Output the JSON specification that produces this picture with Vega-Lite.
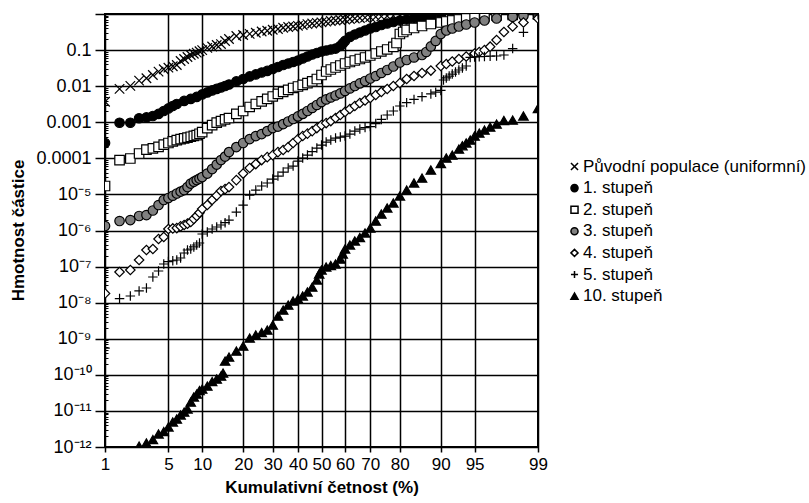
{
"$schema": "https://vega.github.io/schema/vega-lite/v6.json",
"width": 433, "height": 433,
"autosize": {"type": "none"},
"padding": {"left": 105, "top": 14, "right": 271, "bottom": 56},
"background": "white",
"config": {"font": "Liberation Sans", "view": {"stroke": "black", "strokeWidth": 2}},
"data": {"values": [
{"s":"u","z":-2.326,"m":0.0037},{"s":"u","z":-2.17,"m":0.0084},{"s":"u","z":-2.054,"m":0.0102},{"s":"u","z":-1.96,"m":0.0142},{"s":"u","z":-1.881,"m":0.0166},{"s":"u","z":-1.812,"m":0.0204},{"s":"u","z":-1.751,"m":0.0252},{"s":"u","z":-1.695,"m":0.0294},{"s":"u","z":-1.645,"m":0.0325},{"s":"u","z":-1.598,"m":0.0356},{"s":"u","z":-1.555,"m":0.0387},{"s":"u","z":-1.514,"m":0.0499},{"s":"u","z":-1.476,"m":0.0566},{"s":"u","z":-1.44,"m":0.0644},{"s":"u","z":-1.405,"m":0.0731},{"s":"u","z":-1.372,"m":0.079},{"s":"u","z":-1.341,"m":0.0847},{"s":"u","z":-1.311,"m":0.0926},{"s":"u","z":-1.282,"m":0.1},{"s":"u","z":-1.227,"m":0.115},{"s":"u","z":-1.175,"m":0.126},{"s":"u","z":-1.126,"m":0.138},{"s":"u","z":-1.08,"m":0.147},{"s":"u","z":-1.036,"m":0.179},{"s":"u","z":-0.994,"m":0.203},{"s":"u","z":-0.915,"m":0.246},{"s":"u","z":-0.842,"m":0.262},{"s":"u","z":-0.772,"m":0.282},{"s":"u","z":-0.706,"m":0.303},{"s":"u","z":-0.643,"m":0.327},{"s":"u","z":-0.583,"m":0.344},{"s":"u","z":-0.524,"m":0.367},{"s":"u","z":-0.468,"m":0.384},{"s":"u","z":-0.412,"m":0.415},{"s":"u","z":-0.358,"m":0.436},{"s":"u","z":-0.305,"m":0.45},{"s":"u","z":-0.253,"m":0.471},{"s":"u","z":-0.202,"m":0.496},{"s":"u","z":-0.151,"m":0.522},{"s":"u","z":-0.1,"m":0.545},{"s":"u","z":-0.05,"m":0.57},{"s":"u","z":0,"m":0.589},{"s":"u","z":0.05,"m":0.612},{"s":"u","z":0.1,"m":0.64},{"s":"u","z":0.151,"m":0.661},{"s":"u","z":0.202,"m":0.682},{"s":"u","z":0.253,"m":0.704},{"s":"u","z":0.305,"m":0.727},{"s":"u","z":0.358,"m":0.75},{"s":"u","z":0.412,"m":0.775},{"s":"u","z":0.468,"m":0.795},{"s":"u","z":0.524,"m":0.815},{"s":"u","z":0.583,"m":0.836},{"s":"u","z":0.643,"m":0.858},{"s":"u","z":0.706,"m":0.88},{"s":"u","z":0.772,"m":0.897},{"s":"u","z":0.842,"m":0.915},{"s":"u","z":0.915,"m":0.932},{"s":"u","z":0.994,"m":0.95},{"s":"u","z":1.08,"m":0.962},{"s":"u","z":1.175,"m":0.975},{"s":"u","z":1.282,"m":0.981},{"s":"u","z":1.405,"m":0.987},{"s":"u","z":1.555,"m":0.992},{"s":"u","z":1.751,"m":0.996},{"s":"u","z":2.054,"m":0.998},
{"s":"1","z":-2.326,"m":2.66e-4},{"s":"1","z":-2.17,"m":9.7e-4},{"s":"1","z":-2.054,"m":9.7e-4},{"s":"1","z":-1.96,"m":1.29e-3},{"s":"1","z":-1.881,"m":1.36e-3},{"s":"1","z":-1.812,"m":1.49e-3},{"s":"1","z":-1.751,"m":1.7e-3},{"s":"1","z":-1.695,"m":2.05e-3},{"s":"1","z":-1.645,"m":2.41e-3},{"s":"1","z":-1.598,"m":2.82e-3},{"s":"1","z":-1.555,"m":3.21e-3},{"s":"1","z":-1.476,"m":3.89e-3},{"s":"1","z":-1.405,"m":4.42e-3},{"s":"1","z":-1.341,"m":5.02e-3},{"s":"1","z":-1.282,"m":5.89e-3},{"s":"1","z":-1.227,"m":6.7e-3},{"s":"1","z":-1.175,"m":7.6e-3},{"s":"1","z":-1.126,"m":8.4e-3},{"s":"1","z":-1.08,"m":9.2e-3},{"s":"1","z":-1.036,"m":0.0101},{"s":"1","z":-0.994,"m":0.0111},{"s":"1","z":-0.915,"m":0.0135},{"s":"1","z":-0.842,"m":0.0158},{"s":"1","z":-0.772,"m":0.0186},{"s":"1","z":-0.706,"m":0.0211},{"s":"1","z":-0.643,"m":0.0239},{"s":"1","z":-0.583,"m":0.0264},{"s":"1","z":-0.524,"m":0.0299},{"s":"1","z":-0.468,"m":0.034},{"s":"1","z":-0.412,"m":0.0386},{"s":"1","z":-0.358,"m":0.0425},{"s":"1","z":-0.305,"m":0.0468},{"s":"1","z":-0.253,"m":0.0515},{"s":"1","z":-0.202,"m":0.0585},{"s":"1","z":-0.151,"m":0.0664},{"s":"1","z":-0.1,"m":0.0755},{"s":"1","z":-0.05,"m":0.0831},{"s":"1","z":0,"m":0.0915},{"s":"1","z":0.05,"m":0.0975},{"s":"1","z":0.1,"m":0.104},{"s":"1","z":0.151,"m":0.11},{"s":"1","z":0.202,"m":0.13},{"s":"1","z":0.228,"m":0.153},{"s":"1","z":0.253,"m":0.179},{"s":"1","z":0.305,"m":0.231},{"s":"1","z":0.358,"m":0.27},{"s":"1","z":0.412,"m":0.307},{"s":"1","z":0.468,"m":0.349},{"s":"1","z":0.524,"m":0.396},{"s":"1","z":0.583,"m":0.436},{"s":"1","z":0.643,"m":0.496},{"s":"1","z":0.706,"m":0.545},{"s":"1","z":0.772,"m":0.6},{"s":"1","z":0.842,"m":0.661},{"s":"1","z":0.915,"m":0.704},{"s":"1","z":0.994,"m":0.75},{"s":"1","z":1.08,"m":0.8},{"s":"1","z":1.175,"m":0.853},{"s":"1","z":1.282,"m":0.88},{"s":"1","z":1.405,"m":0.909},{"s":"1","z":1.555,"m":0.938},{"s":"1","z":1.751,"m":0.962},{"s":"1","z":2.054,"m":0.981},
{"s":"2","z":-2.326,"m":1.71e-5},{"s":"2","z":-2.17,"m":8.97e-5},{"s":"2","z":-2.054,"m":9.9e-5},{"s":"2","z":-1.96,"m":1.36e-4},{"s":"2","z":-1.881,"m":1.75e-4},{"s":"2","z":-1.812,"m":1.89e-4},{"s":"2","z":-1.751,"m":2.09e-4},{"s":"2","z":-1.695,"m":2.41e-4},{"s":"2","z":-1.645,"m":2.66e-4},{"s":"2","z":-1.598,"m":2.95e-4},{"s":"2","z":-1.555,"m":3.21e-4},{"s":"2","z":-1.514,"m":3.4e-4},{"s":"2","z":-1.476,"m":3.58e-4},{"s":"2","z":-1.44,"m":3.75e-4},{"s":"2","z":-1.405,"m":3.96e-4},{"s":"2","z":-1.372,"m":4.2e-4},{"s":"2","z":-1.341,"m":4.42e-4},{"s":"2","z":-1.311,"m":4.8e-4},{"s":"2","z":-1.282,"m":5.35e-4},{"s":"2","z":-1.227,"m":6.91e-4},{"s":"2","z":-1.175,"m":8.36e-4},{"s":"2","z":-1.126,"m":9.8e-4},{"s":"2","z":-1.08,"m":1.08e-3},{"s":"2","z":-1.036,"m":1.2e-3},{"s":"2","z":-0.994,"m":1.31e-3},{"s":"2","z":-0.915,"m":1.7e-3},{"s":"2","z":-0.842,"m":2.05e-3},{"s":"2","z":-0.772,"m":2.65e-3},{"s":"2","z":-0.706,"m":3.21e-3},{"s":"2","z":-0.643,"m":3.77e-3},{"s":"2","z":-0.583,"m":4.42e-3},{"s":"2","z":-0.524,"m":5.18e-3},{"s":"2","z":-0.468,"m":6.08e-3},{"s":"2","z":-0.412,"m":6.91e-3},{"s":"2","z":-0.358,"m":7.85e-3},{"s":"2","z":-0.305,"m":8.91e-3},{"s":"2","z":-0.253,"m":9.8e-3},{"s":"2","z":-0.202,"m":0.0108},{"s":"2","z":-0.151,"m":0.0122},{"s":"2","z":-0.1,"m":0.0135},{"s":"2","z":-0.05,"m":0.0158},{"s":"2","z":0,"m":0.0204},{"s":"2","z":0.05,"m":0.0255},{"s":"2","z":0.1,"m":0.029},{"s":"2","z":0.151,"m":0.0329},{"s":"2","z":0.202,"m":0.0374},{"s":"2","z":0.253,"m":0.0425},{"s":"2","z":0.305,"m":0.0468},{"s":"2","z":0.358,"m":0.0515},{"s":"2","z":0.412,"m":0.0566},{"s":"2","z":0.468,"m":0.0624},{"s":"2","z":0.524,"m":0.0708},{"s":"2","z":0.583,"m":0.0805},{"s":"2","z":0.643,"m":0.0915},{"s":"2","z":0.706,"m":0.104},{"s":"2","z":0.772,"m":0.122},{"s":"2","z":0.806,"m":0.157},{"s":"2","z":0.842,"m":0.279},{"s":"2","z":0.878,"m":0.317},{"s":"2","z":0.915,"m":0.36},{"s":"2","z":0.994,"m":0.409},{"s":"2","z":1.08,"m":0.465},{"s":"2","z":1.175,"m":0.528},{"s":"2","z":1.282,"m":0.581},{"s":"2","z":1.341,"m":0.62},{"s":"2","z":1.405,"m":0.661},{"s":"2","z":1.476,"m":0.704},{"s":"2","z":1.555,"m":0.75},{"s":"2","z":1.645,"m":0.8},{"s":"2","z":1.751,"m":0.853},{"s":"2","z":1.881,"m":0.909},{"s":"2","z":2.054,"m":0.95},{"s":"2","z":2.326,"m":0.981},
{"s":"3","z":-2.326,"m":1.33e-6},{"s":"3","z":-2.17,"m":1.83e-6},{"s":"3","z":-2.054,"m":1.95e-6},{"s":"3","z":-1.96,"m":2.52e-6},{"s":"3","z":-1.881,"m":2.68e-6},{"s":"3","z":-1.812,"m":3.58e-6},{"s":"3","z":-1.751,"m":5.08e-6},{"s":"3","z":-1.695,"m":7.0e-6},{"s":"3","z":-1.645,"m":7.95e-6},{"s":"3","z":-1.598,"m":9.2e-6},{"s":"3","z":-1.555,"m":1.06e-5},{"s":"3","z":-1.514,"m":1.2e-5},{"s":"3","z":-1.476,"m":1.32e-5},{"s":"3","z":-1.44,"m":1.6e-5},{"s":"3","z":-1.405,"m":2.0e-5},{"s":"3","z":-1.372,"m":2.25e-5},{"s":"3","z":-1.341,"m":2.5e-5},{"s":"3","z":-1.311,"m":2.75e-5},{"s":"3","z":-1.282,"m":3.03e-5},{"s":"3","z":-1.227,"m":3.79e-5},{"s":"3","z":-1.175,"m":5.05e-5},{"s":"3","z":-1.126,"m":6.73e-5},{"s":"3","z":-1.08,"m":8.97e-5},{"s":"3","z":-1.036,"m":1.12e-4},{"s":"3","z":-0.994,"m":1.49e-4},{"s":"3","z":-0.915,"m":2.05e-4},{"s":"3","z":-0.842,"m":2.66e-4},{"s":"3","z":-0.772,"m":3.42e-4},{"s":"3","z":-0.706,"m":4.15e-4},{"s":"3","z":-0.643,"m":4.71e-4},{"s":"3","z":-0.583,"m":5.7e-4},{"s":"3","z":-0.524,"m":6.91e-4},{"s":"3","z":-0.468,"m":7.6e-4},{"s":"3","z":-0.412,"m":8.91e-4},{"s":"3","z":-0.358,"m":1.05e-3},{"s":"3","z":-0.305,"m":1.23e-3},{"s":"3","z":-0.253,"m":1.45e-3},{"s":"3","z":-0.202,"m":1.7e-3},{"s":"3","z":-0.151,"m":2.05e-3},{"s":"3","z":-0.1,"m":2.49e-3},{"s":"3","z":-0.05,"m":3.01e-3},{"s":"3","z":0,"m":3.65e-3},{"s":"3","z":0.05,"m":4.28e-3},{"s":"3","z":0.1,"m":4.86e-3},{"s":"3","z":0.151,"m":5.52e-3},{"s":"3","z":0.202,"m":6.28e-3},{"s":"3","z":0.253,"m":7.36e-3},{"s":"3","z":0.305,"m":8.64e-3},{"s":"3","z":0.358,"m":0.0101},{"s":"3","z":0.412,"m":0.0119},{"s":"3","z":0.468,"m":0.0139},{"s":"3","z":0.524,"m":0.0163},{"s":"3","z":0.583,"m":0.0191},{"s":"3","z":0.643,"m":0.0232},{"s":"3","z":0.706,"m":0.0281},{"s":"3","z":0.772,"m":0.0351},{"s":"3","z":0.842,"m":0.0453},{"s":"3","z":0.915,"m":0.0531},{"s":"3","z":0.994,"m":0.0624},{"s":"3","z":1.08,"m":0.0731},{"s":"3","z":1.126,"m":0.0886},{"s":"3","z":1.175,"m":0.126},{"s":"3","z":1.227,"m":0.179},{"s":"3","z":1.282,"m":0.279},{"s":"3","z":1.341,"m":0.349},{"s":"3","z":1.405,"m":0.396},{"s":"3","z":1.476,"m":0.45},{"s":"3","z":1.555,"m":0.512},{"s":"3","z":1.645,"m":0.581},{"s":"3","z":1.751,"m":0.661},{"s":"3","z":1.881,"m":0.75},{"s":"3","z":2.054,"m":0.836},{"s":"3","z":2.17,"m":0.891},{"s":"3","z":2.326,"m":0.926},
{"s":"4","z":-2.326,"m":1.8e-8},{"s":"4","z":-2.17,"m":7.08e-8},{"s":"4","z":-2.054,"m":8.05e-8},{"s":"4","z":-1.96,"m":1.52e-7},{"s":"4","z":-1.881,"m":2.88e-7},{"s":"4","z":-1.812,"m":3.07e-7},{"s":"4","z":-1.751,"m":5.81e-7},{"s":"4","z":-1.695,"m":6.6e-7},{"s":"4","z":-1.645,"m":1.1e-6},{"s":"4","z":-1.598,"m":1.14e-6},{"s":"4","z":-1.555,"m":1.17e-6},{"s":"4","z":-1.514,"m":1.3e-6},{"s":"4","z":-1.476,"m":1.42e-6},{"s":"4","z":-1.44,"m":1.55e-6},{"s":"4","z":-1.405,"m":1.72e-6},{"s":"4","z":-1.372,"m":2.1e-6},{"s":"4","z":-1.341,"m":2.52e-6},{"s":"4","z":-1.311,"m":3.1e-6},{"s":"4","z":-1.282,"m":3.94e-6},{"s":"4","z":-1.227,"m":5.08e-6},{"s":"4","z":-1.175,"m":7.0e-6},{"s":"4","z":-1.126,"m":9.3e-6},{"s":"4","z":-1.08,"m":1.24e-5},{"s":"4","z":-1.036,"m":1.4e-5},{"s":"4","z":-0.994,"m":1.6e-5},{"s":"4","z":-0.915,"m":2.5e-5},{"s":"4","z":-0.842,"m":3.79e-5},{"s":"4","z":-0.772,"m":5.39e-5},{"s":"4","z":-0.706,"m":6.95e-5},{"s":"4","z":-0.643,"m":8.97e-5},{"s":"4","z":-0.583,"m":1.08e-4},{"s":"4","z":-0.524,"m":1.23e-4},{"s":"4","z":-0.468,"m":1.49e-4},{"s":"4","z":-0.412,"m":1.7e-4},{"s":"4","z":-0.358,"m":2.05e-4},{"s":"4","z":-0.305,"m":2.66e-4},{"s":"4","z":-0.253,"m":3.42e-4},{"s":"4","z":-0.202,"m":4.15e-4},{"s":"4","z":-0.151,"m":4.86e-4},{"s":"4","z":-0.1,"m":5.7e-4},{"s":"4","z":-0.05,"m":6.91e-4},{"s":"4","z":0,"m":8.36e-4},{"s":"4","z":0.05,"m":9.5e-4},{"s":"4","z":0.1,"m":1.08e-3},{"s":"4","z":0.151,"m":1.31e-3},{"s":"4","z":0.202,"m":1.59e-3},{"s":"4","z":0.253,"m":1.93e-3},{"s":"4","z":0.305,"m":2.33e-3},{"s":"4","z":0.358,"m":2.82e-3},{"s":"4","z":0.412,"m":3.42e-3},{"s":"4","z":0.468,"m":4.01e-3},{"s":"4","z":0.524,"m":4.71e-3},{"s":"4","z":0.583,"m":5.7e-3},{"s":"4","z":0.643,"m":6.91e-3},{"s":"4","z":0.706,"m":8.36e-3},{"s":"4","z":0.772,"m":0.0101},{"s":"4","z":0.842,"m":0.0122},{"s":"4","z":0.915,"m":0.0158},{"s":"4","z":0.994,"m":0.0191},{"s":"4","z":1.08,"m":0.0232},{"s":"4","z":1.175,"m":0.0271},{"s":"4","z":1.282,"m":0.0362},{"s":"4","z":1.341,"m":0.0412},{"s":"4","z":1.405,"m":0.0483},{"s":"4","z":1.476,"m":0.0566},{"s":"4","z":1.555,"m":0.0664},{"s":"4","z":1.645,"m":0.0805},{"s":"4","z":1.695,"m":0.0886},{"s":"4","z":1.751,"m":0.1},{"s":"4","z":1.812,"m":0.124},{"s":"4","z":1.881,"m":0.19},{"s":"4","z":1.96,"m":0.317},{"s":"4","z":2.054,"m":0.45},{"s":"4","z":2.17,"m":0.581},{"s":"4","z":2.326,"m":0.75},
{"s":"5","z":-2.326,"m":5.5e-10},{"s":"5","z":-2.17,"m":1.3e-8},{"s":"5","z":-2.054,"m":1.53e-8},{"s":"5","z":-1.96,"m":2.11e-8},{"s":"5","z":-1.881,"m":2.55e-8},{"s":"5","z":-1.812,"m":5.15e-8},{"s":"5","z":-1.751,"m":7.55e-8},{"s":"5","z":-1.695,"m":1.18e-7},{"s":"5","z":-1.645,"m":1.38e-7},{"s":"5","z":-1.598,"m":1.45e-7},{"s":"5","z":-1.555,"m":1.52e-7},{"s":"5","z":-1.514,"m":1.73e-7},{"s":"5","z":-1.476,"m":2.38e-7},{"s":"5","z":-1.44,"m":2.88e-7},{"s":"5","z":-1.405,"m":3.07e-7},{"s":"5","z":-1.372,"m":3.5e-7},{"s":"5","z":-1.341,"m":3.96e-7},{"s":"5","z":-1.311,"m":4.51e-7},{"s":"5","z":-1.282,"m":8.0e-7},{"s":"5","z":-1.227,"m":9.1e-7},{"s":"5","z":-1.175,"m":1.1e-6},{"s":"5","z":-1.126,"m":1.25e-6},{"s":"5","z":-1.08,"m":1.42e-6},{"s":"5","z":-1.036,"m":1.65e-6},{"s":"5","z":-0.994,"m":1.95e-6},{"s":"5","z":-0.915,"m":3.25e-6},{"s":"5","z":-0.842,"m":5.08e-6},{"s":"5","z":-0.772,"m":9.6e-6},{"s":"5","z":-0.706,"m":1.32e-5},{"s":"5","z":-0.643,"m":1.71e-5},{"s":"5","z":-0.583,"m":2.07e-5},{"s":"5","z":-0.524,"m":2.67e-5},{"s":"5","z":-0.468,"m":3.23e-5},{"s":"5","z":-0.412,"m":4.17e-5},{"s":"5","z":-0.358,"m":5.39e-5},{"s":"5","z":-0.305,"m":6.12e-5},{"s":"5","z":-0.253,"m":8.42e-5},{"s":"5","z":-0.202,"m":1.02e-4},{"s":"5","z":-0.151,"m":1.23e-4},{"s":"5","z":-0.1,"m":1.54e-4},{"s":"5","z":-0.05,"m":1.93e-4},{"s":"5","z":0,"m":2.33e-4},{"s":"5","z":0.05,"m":2.82e-4},{"s":"5","z":0.1,"m":3.21e-4},{"s":"5","z":0.151,"m":3.65e-4},{"s":"5","z":0.202,"m":3.89e-4},{"s":"5","z":0.253,"m":4.15e-4},{"s":"5","z":0.305,"m":4.71e-4},{"s":"5","z":0.358,"m":5.7e-4},{"s":"5","z":0.412,"m":6.48e-4},{"s":"5","z":0.468,"m":7.13e-4},{"s":"5","z":0.524,"m":7.6e-4},{"s":"5","z":0.583,"m":9.2e-4},{"s":"5","z":0.643,"m":1.2e-3},{"s":"5","z":0.706,"m":1.59e-3},{"s":"5","z":0.772,"m":2.05e-3},{"s":"5","z":0.842,"m":2.82e-3},{"s":"5","z":0.915,"m":3.5e-3},{"s":"5","z":0.994,"m":4.3e-3},{"s":"5","z":1.08,"m":5.1e-3},{"s":"5","z":1.175,"m":6.1e-3},{"s":"5","z":1.227,"m":6.8e-3},{"s":"5","z":1.282,"m":7.6e-3},{"s":"5","z":1.311,"m":0.0148},{"s":"5","z":1.341,"m":0.0169},{"s":"5","z":1.372,"m":0.0191},{"s":"5","z":1.405,"m":0.0217},{"s":"5","z":1.44,"m":0.0247},{"s":"5","z":1.476,"m":0.0281},{"s":"5","z":1.514,"m":0.0319},{"s":"5","z":1.555,"m":0.0362},{"s":"5","z":1.598,"m":0.0624},{"s":"5","z":1.645,"m":0.0644},{"s":"5","z":1.695,"m":0.0657},{"s":"5","z":1.751,"m":0.0664},{"s":"5","z":1.812,"m":0.0677},{"s":"5","z":1.881,"m":0.0686},{"s":"5","z":1.96,"m":0.0731},{"s":"5","z":2.054,"m":0.11},{"s":"5","z":2.17,"m":0.31},{"s":"5","z":2.326,"m":0.95},
{"s":"10","z":-1.96,"m":1.06e-12},{"s":"10","z":-1.881,"m":1.29e-12},{"s":"10","z":-1.812,"m":1.61e-12},{"s":"10","z":-1.751,"m":2.29e-12},{"s":"10","z":-1.695,"m":2.68e-12},{"s":"10","z":-1.645,"m":3.58e-12},{"s":"10","z":-1.598,"m":4.93e-12},{"s":"10","z":-1.555,"m":5.96e-12},{"s":"10","z":-1.514,"m":7.7e-12},{"s":"10","z":-1.476,"m":9.3e-12},{"s":"10","z":-1.44,"m":1.13e-11},{"s":"10","z":-1.405,"m":1.76e-11},{"s":"10","z":-1.372,"m":2.43e-11},{"s":"10","z":-1.341,"m":2.93e-11},{"s":"10","z":-1.311,"m":3.67e-11},{"s":"10","z":-1.282,"m":4.04e-11},{"s":"10","z":-1.227,"m":4.89e-11},{"s":"10","z":-1.175,"m":6.52e-11},{"s":"10","z":-1.126,"m":7.65e-11},{"s":"10","z":-1.08,"m":9.26e-11},{"s":"10","z":-1.058,"m":1.12e-10},{"s":"10","z":-1.036,"m":2.41e-10},{"s":"10","z":-0.994,"m":3.11e-10},{"s":"10","z":-0.915,"m":4.56e-10},{"s":"10","z":-0.842,"m":6.28e-10},{"s":"10","z":-0.772,"m":1.04e-9},{"s":"10","z":-0.706,"m":1.27e-9},{"s":"10","z":-0.643,"m":1.48e-9},{"s":"10","z":-0.583,"m":1.74e-9},{"s":"10","z":-0.524,"m":2.39e-9},{"s":"10","z":-0.468,"m":4.25e-9},{"s":"10","z":-0.412,"m":6.24e-9},{"s":"10","z":-0.358,"m":8.58e-9},{"s":"10","z":-0.305,"m":1.11e-8},{"s":"10","z":-0.253,"m":1.27e-8},{"s":"10","z":-0.202,"m":1.53e-8},{"s":"10","z":-0.151,"m":1.98e-8},{"s":"10","z":-0.1,"m":2.71e-8},{"s":"10","z":-0.05,"m":4.25e-8},{"s":"10","z":-0.025,"m":6.24e-8},{"s":"10","z":0,"m":8.05e-8},{"s":"10","z":0.05,"m":9.75e-8},{"s":"10","z":0.1,"m":1.07e-7},{"s":"10","z":0.151,"m":1.18e-7},{"s":"10","z":0.202,"m":1.62e-7},{"s":"10","z":0.228,"m":2.23e-7},{"s":"10","z":0.253,"m":3.07e-7},{"s":"10","z":0.305,"m":3.96e-7},{"s":"10","z":0.358,"m":5.12e-7},{"s":"10","z":0.412,"m":6.4e-7},{"s":"10","z":0.468,"m":8.52e-7},{"s":"10","z":0.524,"m":1.17e-6},{"s":"10","z":0.583,"m":1.83e-6},{"s":"10","z":0.643,"m":2.86e-6},{"s":"10","z":0.706,"m":4.2e-6},{"s":"10","z":0.772,"m":5.78e-6},{"s":"10","z":0.842,"m":9.03e-6},{"s":"10","z":0.915,"m":1.32e-5},{"s":"10","z":0.994,"m":2.07e-5},{"s":"10","z":1.08,"m":2.84e-5},{"s":"10","z":1.175,"m":4.74e-5},{"s":"10","z":1.282,"m":7.18e-5},{"s":"10","z":1.341,"m":1.02e-4},{"s":"10","z":1.405,"m":1.23e-4},{"s":"10","z":1.476,"m":1.81e-4},{"s":"10","z":1.514,"m":2.24e-4},{"s":"10","z":1.555,"m":2.66e-4},{"s":"10","z":1.598,"m":3.2e-4},{"s":"10","z":1.645,"m":4.15e-4},{"s":"10","z":1.695,"m":5.02e-4},{"s":"10","z":1.751,"m":6.08e-4},{"s":"10","z":1.812,"m":7.36e-4},{"s":"10","z":1.881,"m":8.91e-4},{"s":"10","z":1.96,"m":1.12e-3},{"s":"10","z":2.054,"m":1.15e-3},{"s":"10","z":2.17,"m":1.49e-3},{"s":"10","z":2.326,"m":2.41e-3}
]},
"mark": {"type": "point", "filled": true, "size": 90, "stroke": "black", "strokeWidth": 1.2, "opacity": 1, "clip": true},
"encoding": {
 "x": {"field": "z", "type": "quantitative",
  "scale": {"domain": [-2.3263, 2.3263], "nice": false, "zero": false},
  "axis": {"values": [-2.3263,-1.6449,-1.2816,-0.8416,-0.5244,-0.2533,0,0.2533,0.5244,0.8416,1.2816,1.6449,2.3263],
   "labelExpr": "round(cumulativeNormal(datum.value)*100)",
   "title": "Kumulativní četnost (%)", "grid": true, "gridColor": "black", "gridWidth": 1.5, "gridOpacity": 1,
   "domain": false, "ticks": true, "tickColor": "black", "tickSize": 5, "tickWidth": 1.5,
   "labelFont": "Liberation Sans", "labelFontSize": 17, "labelColor": "black", "labelPadding": 4, "labelOverlap": false, "labelFlush": false, "labelBound": false,
   "titleFont": "Liberation Sans", "titleFontSize": 17, "titleFontWeight": "bold", "titleColor": "black", "titleY": 45, "titleBaseline": "alphabetic"}},
 "y": {"field": "m", "type": "quantitative",
  "scale": {"type": "log", "domain": [1e-12, 1], "nice": false},
  "axis": {"values": [1e-12,2e-12,3e-12,4e-12,5e-12,6e-12,7e-12,8e-12,9e-12,1e-11,2e-11,3e-11,4e-11,5e-11,6e-11,7e-11,8e-11,9e-11,1e-10,2e-10,3e-10,4e-10,5e-10,6e-10,7e-10,8e-10,9e-10,1e-9,2e-9,3e-9,4e-9,5e-9,6e-9,7e-9,8e-9,9e-9,1e-8,2e-8,3e-8,4e-8,5e-8,6e-8,7e-8,8e-8,9e-8,1e-7,2e-7,3e-7,4e-7,5e-7,6e-7,7e-7,8e-7,9e-7,1e-6,2e-6,3e-6,4e-6,5e-6,6e-6,7e-6,8e-6,9e-6,1e-5,2e-5,3e-5,4e-5,5e-5,6e-5,7e-5,8e-5,9e-5,1e-4,2e-4,3e-4,4e-4,5e-4,6e-4,7e-4,8e-4,9e-4,0.001,0.002,0.003,0.004,0.005,0.006,0.007,0.008,0.009,0.01,0.02,0.03,0.04,0.05,0.06,0.07,0.08,0.09,0.1,0.2,0.3,0.4,0.5,0.6,0.7,0.8,0.9,1],
   "labelExpr": "abs(datum.value / pow(10, round(log(datum.value) / LN10)) - 1) > 0.01 ? '' : {'0':'','-1':'0.1','-2':'0.01','-3':'0.001','-4':'0.0001','-5':'10⁻⁵','-6':'10⁻⁶','-7':'10⁻⁷','-8':'10⁻⁸','-9':'10⁻⁹','-10':'10⁻¹⁰','-11':'10⁻¹¹','-12':'10⁻¹²'}[toString(round(log(datum.value) / LN10))]",
   "title": "Hmotnost částice", "grid": true, "gridColor": "black", "gridWidth": 1.5,
   "gridOpacity": {"condition": {"test": "abs(datum.value / pow(10, round(log(datum.value) / LN10)) - 1) > 0.01", "value": 0}, "value": 1},
   "domain": false, "tickColor": "black",
   "tickSize": {"condition": {"test": "abs(datum.value / pow(10, round(log(datum.value) / LN10)) - 1) > 0.01", "value": -3}, "value": 10},
   "tickWidth": {"condition": {"test": "abs(datum.value / pow(10, round(log(datum.value) / LN10)) - 1) > 0.01", "value": 1}, "value": 1.5},
   "labelFont": "Liberation Sans", "labelFontSize": 18, "labelColor": "black", "labelPadding": 4, "labelOverlap": false, "labelBound": false,
   "titleFont": "Liberation Sans", "titleFontSize": 17, "titleFontWeight": "bold", "titleColor": "black", "titleAngle": -90, "titleX": -82, "titleY": 216, "titleAlign": "center", "titleBaseline": "alphabetic"}},
 "shape": {"field": "s", "type": "nominal",
  "scale": {"domain": ["u","1","2","3","4","5","10"], "range": ["M-1,-1L1,1M-1,1L1,-1","circle","square","circle","diamond","M-1,0L1,0M0,-1L0,1","triangle-up"]},
  "legend": {"title": null, "orient": "none", "legendX": 461, "legendY": 144, "padding": 0, "labelFont": "Liberation Sans", "labelFontSize": 17, "labelColor": "black", "labelLimit": 400, "symbolSize": 50, "rowPadding": 3.6, "labelOffset": 0,
   "encode": {"symbols": {"update": {"stroke": {"value": "black"}, "strokeWidth": {"value": 1}}}},
   "labelExpr": "{'u':'Původní populace (uniformní)','1':'1. stupeň','2':'2. stupeň','3':'3. stupeň','4':'4. stupeň','5':'5. stupeň','10':'10. stupeň'}[datum.label]"}},
 "fill": {"field": "s", "type": "nominal",
  "scale": {"domain": ["u","1","2","3","4","5","10"], "range": ["black","black","white","#808080","white","black","black"]},
  "legend": {"title": null, "orient": "none", "legendX": 461, "legendY": 144, "padding": 0, "labelFont": "Liberation Sans", "labelFontSize": 17, "labelColor": "black", "labelLimit": 400, "symbolSize": 50, "rowPadding": 3.6, "labelOffset": 0,
   "encode": {"symbols": {"update": {"stroke": {"value": "black"}, "strokeWidth": {"value": 1}}}},
   "labelExpr": "{'u':'Původní populace (uniformní)','1':'1. stupeň','2':'2. stupeň','3':'3. stupeň','4':'4. stupeň','5':'5. stupeň','10':'10. stupeň'}[datum.label]"}}
}
}
